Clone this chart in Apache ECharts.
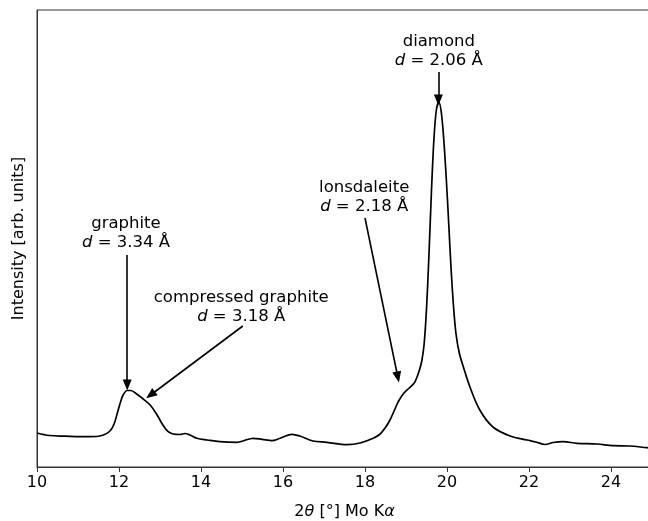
<!DOCTYPE html>
<html>
<head>
<meta charset="utf-8">
<title>XRD pattern</title>
<script src="https://cdn.jsdelivr.net/npm/echarts@6/dist/echarts.min.js"></script>
<style>
  html, body { margin: 0; padding: 0; background: #fff; }
  #chart { width: 648px; height: 521px; }
</style>
</head>
<body>
<div id="chart"></div>
<script>
// 2theta (deg, Mo K-alpha) and intensity (arb. units)
var twoTheta = [
  10.00, 10.30, 10.70, 11.05, 11.45, 11.62, 11.78, 11.88, 11.96, 12.03,
  12.10, 12.20, 12.28, 12.39, 12.56, 12.76, 12.93, 13.07, 13.20, 13.32,
  13.49, 13.61, 13.73, 13.90, 14.15, 14.46, 14.88, 15.02, 15.27, 15.49,
  15.73, 15.93, 16.22, 16.41, 16.73, 17.07, 17.56, 17.88, 18.20, 18.37,
  18.49, 18.61, 18.72, 18.82, 18.95, 19.08, 19.20, 19.26, 19.32, 19.38,
  19.44, 19.50, 19.56, 19.62, 19.68, 19.74, 19.80, 19.86, 19.92, 19.98,
  20.04, 20.10, 20.16, 20.22, 20.30, 20.40, 20.56, 20.80, 21.12, 21.54,
  21.95, 22.17, 22.39, 22.59, 22.83, 23.17, 23.66, 24.05, 24.46, 24.88,
  25.00
];
var intensity = [
  34, 31.5, 30.8, 30.3, 30.5, 32, 36, 43, 54, 64,
  72, 76.5, 76.5, 74.3, 69, 62, 52, 42, 35.3, 33,
  32.5, 33.5, 32, 28.7, 27, 25.3, 24.7, 26, 28.7, 27.7,
  26.3, 28.7, 32.7, 31, 26, 24.7, 22.3, 24, 28.7, 33,
  39, 47, 57, 66, 74, 79, 84, 89, 96, 105,
  122, 158, 212, 275, 327, 357, 365, 355, 328, 290,
  245, 198, 160, 133, 114, 100, 80, 57, 40, 31,
  27, 25, 22.5, 24.5, 25.3, 23.7, 23, 21.3, 21, 19.3,
  19
];

// peak annotations: name, d-spacing, text anchor, arrow tail, arrow head
var peakNames = ['graphite', 'compressed graphite', 'lonsdaleite', 'diamond'];
var peakD = ['3.34', '3.18', '2.18', '2.06'];
var textAt = [[12.17, 233.5], [14.98, 159.5], [17.98, 269.5], [19.80, 416]];
var arrowFrom = [[12.20, 212], [15.02, 141], [18.00, 249], [19.79, 395]];
var arrowTo = [[12.20, 82], [12.77, 72], [18.80, 90], [19.79, 367]];

var chart = echarts.init(document.getElementById('chart'));

var font = 'DejaVu Sans';
var curve = twoTheta.map(function (t, i) { return [t, intensity[i]]; });

var arrows = arrowFrom.map(function (p, i) {
  return [{ coord: p }, { coord: arrowTo[i] }];
});

var labels = peakNames.map(function (n, i) {
  return {
    value: textAt[i],
    label: {
      formatter: '{n|' + n + '}\n{i|d}{n| = ' + peakD[i] + ' Å}'
    }
  };
});

var richText = {
  n: { fontFamily: font, fontSize: 16.5, color: '#000', lineHeight: 19, align: 'center' },
  i: { fontFamily: font, fontSize: 16.5, color: '#000', lineHeight: 19, fontStyle: 'italic', align: 'center' }
};

chart.setOption({
  animation: false,
  backgroundColor: '#fff',
  grid: {
    left: 37, top: 10, width: 615, height: 457,
    outerBoundsMode: 'none',
    containLabel: false,
    show: true, borderColor: '#333', borderWidth: 1, backgroundColor: 'transparent'
  },
  xAxis: {
    type: 'value',
    min: 10, max: 25, interval: 2,
    axisLine: { lineStyle: { color: '#333', width: 1 } },
    axisTick: { length: 5, lineStyle: { color: '#333' } },
    axisLabel: {
      fontFamily: font, fontSize: 16, color: '#000', margin: 8,
      showMaxLabel: false
    },
    splitLine: { show: false },
    name: '2{i|θ} [°] Mo K{i|α}',
    nameLocation: 'middle',
    nameGap: 37,
    nameTextStyle: {
      fontFamily: font, fontSize: 16, color: '#000',
      rich: { i: { fontFamily: font, fontSize: 16, color: '#000', fontStyle: 'italic' } }
    }
  },
  yAxis: {
    type: 'value',
    min: 0, max: 457,
    axisLine: { show: true, lineStyle: { color: '#333', width: 1 } },
    axisTick: { show: false },
    axisLabel: { show: false },
    splitLine: { show: false },
    name: 'Intensity [arb. units]',
    nameLocation: 'middle',
    nameGap: 10,
    nameTextStyle: { fontFamily: font, fontSize: 16, color: '#000' }
  },
  series: [
    {
      name: 'intensity',
      type: 'line',
      data: curve,
      showSymbol: false,
      smooth: 0.35,
      lineStyle: { color: '#000', width: 1.7 },
      markLine: {
        silent: true,
        symbol: ['none', 'triangle'],
        symbolSize: [9, 11],
        label: { show: false },
        lineStyle: { color: '#000', width: 1.6, type: 'solid' },
        data: arrows
      }
    },
    {
      name: 'labels',
      type: 'scatter',
      silent: true,
      symbolSize: 0,
      itemStyle: { opacity: 1, color: '#000' },
      data: labels,
      label: {
        show: true,
        position: 'inside',
        align: 'center',
        verticalAlign: 'middle',
        color: '#000',
        opacity: 1,
        textBorderWidth: 0,
        rich: richText
      }
    }
  ]
});
</script>
</body>
</html>
